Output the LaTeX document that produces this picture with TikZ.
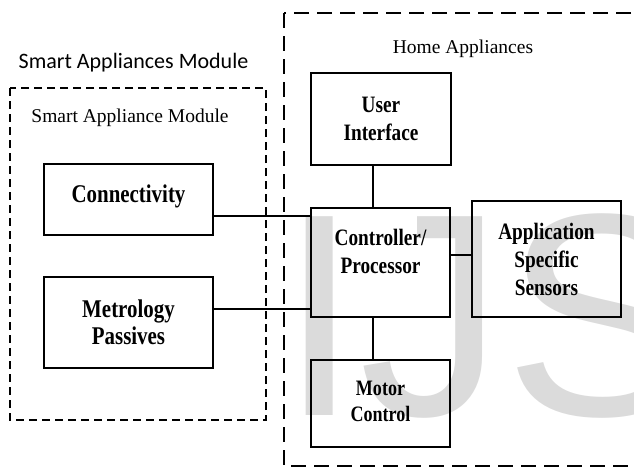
\documentclass[tikz,border=0pt]{standalone}
\usepackage{fontspec}
\setmainfont{Liberation Serif}
\newfontfamily\calib{Carlito}
\newfontfamily\wmfont{Liberation Sans}
\newfontfamily\condserif[FakeStretch=0.82]{Liberation Serif}
\begin{document}
\begin{tikzpicture}[x=1pt,y=-1pt,
  blk/.style={draw=black,line width=1.7pt,inner sep=0pt,align=center},
  bigtxt/.style={font=\condserif\bfseries\fontsize{25.5}{27}\selectfont},
  midtxt/.style={font=\condserif\bfseries\fontsize{23.5}{28}\selectfont},
  smalltxt/.style={font=\condserif\bfseries\fontsize{22}{26}\selectfont},
  link/.style={draw=black,line width=1.7pt},
  outerdash/.style={draw=black,line width=1.8pt,dash pattern=on 15pt off 8pt},
  innerdash/.style={draw=black,line width=1.8pt,dash pattern=on 8pt off 5pt},
  lbl/.style={inner sep=0pt,font=\fontsize{19.5}{22}\selectfont}]
\useasboundingbox (0,0) rectangle (634,467);
\begin{scope}
\clip (0,0) rectangle (634,467);
% watermark
\node[anchor=base west,inner sep=0pt,text=black!14,font=\wmfont\fontsize{289}{300}\selectfont] (wm) at (279,415) {IJS};
% outer dashed box (Home Appliances)
\draw[outerdash] (284,13) rectangle (660,466);
\end{scope}
% inner dashed box
\draw[innerdash] (10,88) rectangle (266,420);
% titles
\node[anchor=base,inner sep=0pt,font=\calib\fontsize{22}{26}\selectfont] (t1) at (133.5,68) {Smart Appliances Module};
\node[lbl,anchor=base] (t2) at (130,122) {Smart Appliance Module};
\node[lbl,anchor=base] (t3) at (463,53) {Home Appliances};
% blocks
\node[blk,minimum width=169pt,minimum height=71pt] (conn) at (128.5,199.5) {};
\node[bigtxt,inner sep=0pt] (conntxt) at ([yshift=3pt]conn.center) {Connectivity};
\node[blk,bigtxt,minimum width=169pt,minimum height=91pt] (metro) at (128.5,322.5) {Metrology\\Passives};
\node[blk,midtxt,minimum width=140pt,minimum height=92pt] (ui) at (381,119) {User\\Interface};
\node[blk,minimum width=139pt,minimum height=109pt] (ctrl) at (380.5,262.5) {};
\node[midtxt,inner sep=0pt,align=center] (ctrltxt) at ([yshift=11pt]ctrl.center) {Controller/\\Processor};
\node[blk,midtxt,minimum width=149pt,minimum height=116pt] (sens) at (546.5,259) {Application\\Specific\\Sensors};
\node[blk,minimum width=139pt,minimum height=87pt] (motor) at (380.5,403.5) {};
\node[smalltxt,inner sep=0pt,align=center] (motortxt) at ([yshift=2pt]motor.center) {Motor\\Control};
% connectors
\draw[link] ([yshift=-16.5pt]conn.east) -- ([yshift=-16.5pt]conn.east -| ctrl.west);
\draw[link] ([yshift=13.5pt]metro.east) -- ([yshift=13.5pt]metro.east -| ctrl.west);
\draw[link] ([yshift=4pt]sens.west) -- ([yshift=4pt]sens.west -| ctrl.east);
\draw[link] ([xshift=-8pt]ui.south) -- ([xshift=-8pt]ui.south |- ctrl.north);
\draw[link] ([xshift=-7.5pt]ctrl.south) -- ([xshift=-7.5pt]ctrl.south |- motor.north);
\end{tikzpicture}
\end{document}
